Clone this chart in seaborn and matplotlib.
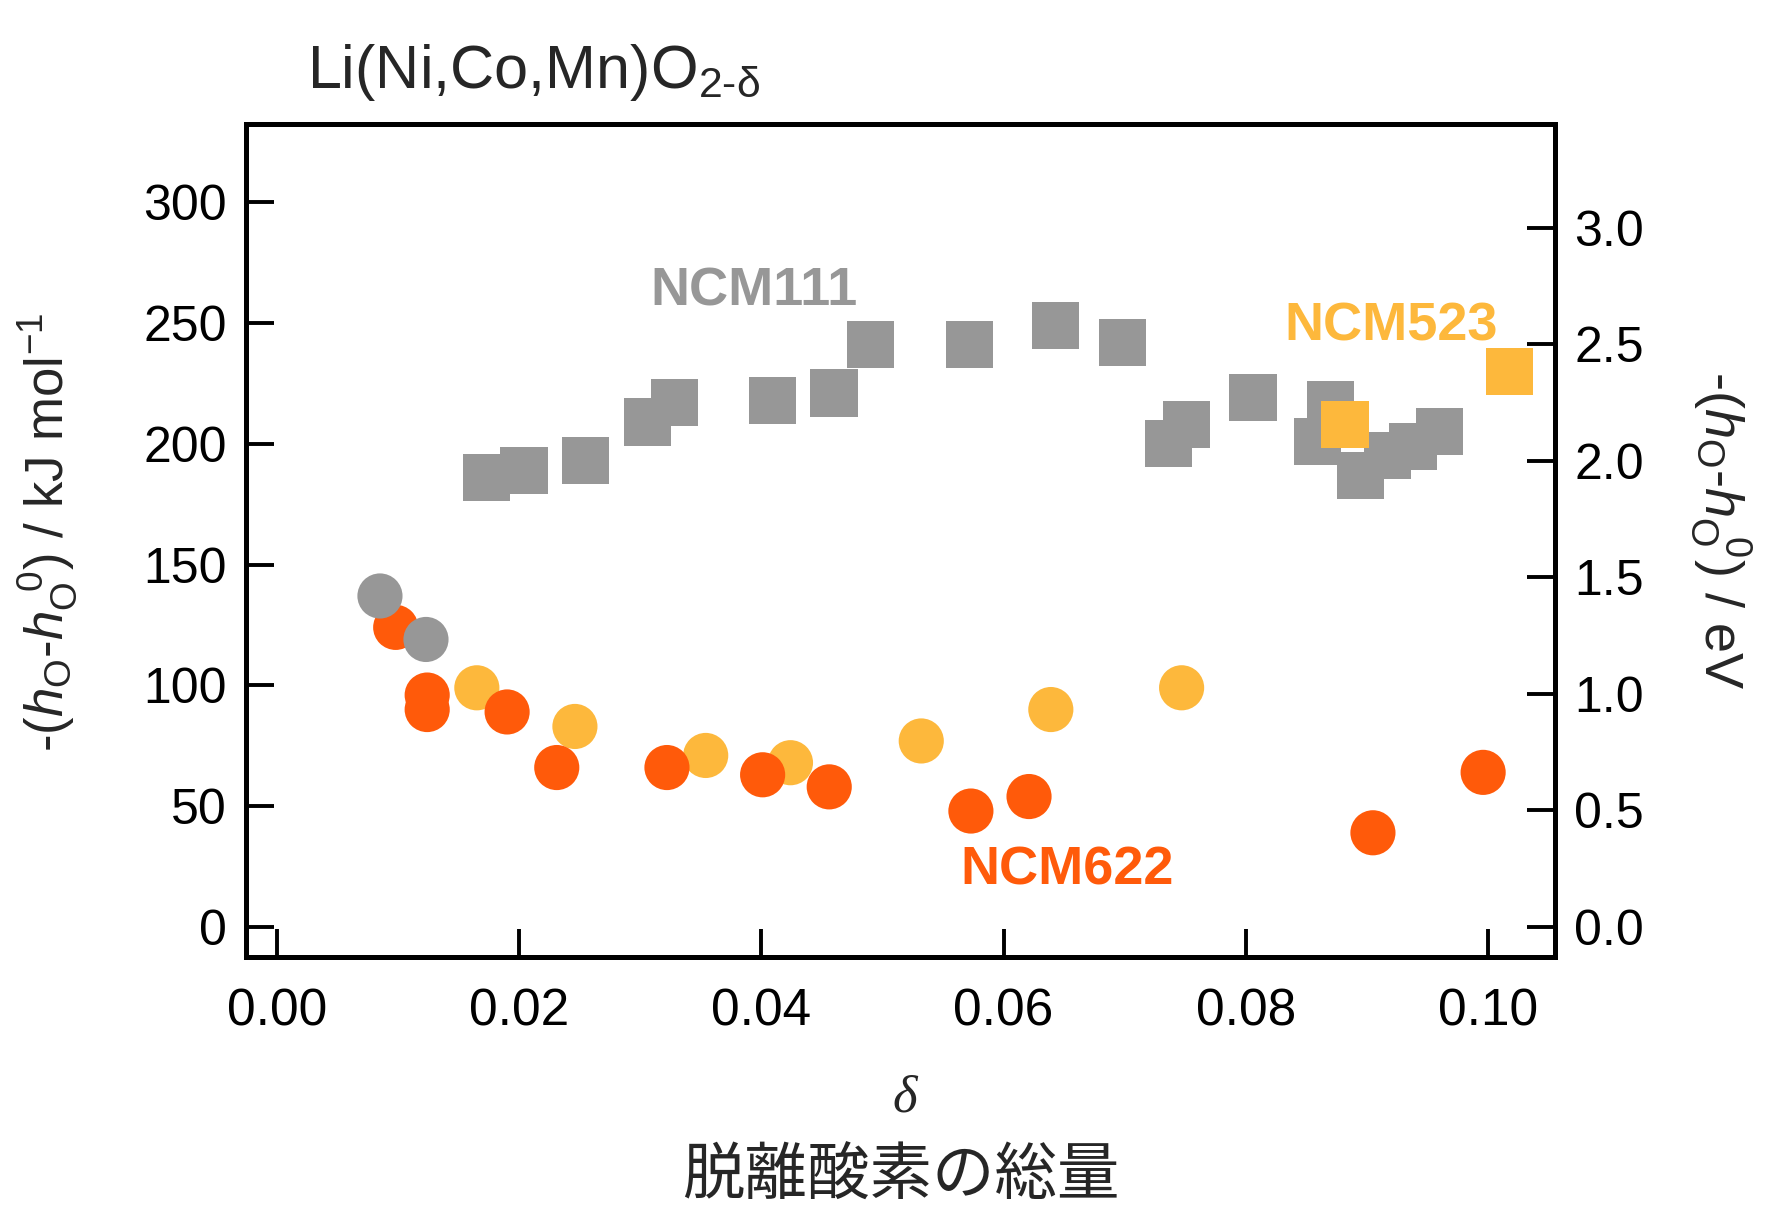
import numpy as np
import pandas as pd
import matplotlib
matplotlib.use("Agg")
import matplotlib.pyplot as plt
import seaborn as sns
from matplotlib.ticker import MultipleLocator, FormatStrFormatter

# ---------------- data ----------------
ncm111_sq_x = [0.0173, 0.0204, 0.0255, 0.0306, 0.0328, 0.0409, 0.0460, 0.0490, 0.0572,
               0.0643, 0.0698, 0.0736, 0.0751, 0.0806, 0.0870, 0.0859, 0.0895, 0.0917,
               0.0938, 0.0960]
ncm111_sq_y = [186, 189, 193, 209, 217, 218, 221, 241, 241,
               249, 242, 200, 208, 219, 216, 201, 187, 195,
               199, 205]
ncm523_sq_x = [0.0882, 0.1018]
ncm523_sq_y = [208, 230]

ncm111_ci_x = [0.0085, 0.0123]
ncm111_ci_y = [137, 119]
ncm622_ci_x = [0.0098, 0.0124, 0.0124, 0.0190, 0.0231, 0.0322, 0.0401, 0.0456,
               0.0573, 0.0621, 0.0905, 0.0996]
ncm622_ci_y = [124, 96, 90, 89, 66, 66, 63, 58,
               48, 54, 39, 64]
ncm523_ci_x = [0.0165, 0.0246, 0.0354, 0.0424, 0.0532, 0.0639, 0.0747]
ncm523_ci_y = [99, 83, 71, 68, 77, 90, 99]

y_ticks_kj = [0, 50, 100, 150, 200, 250, 300]
y_ticks_ev = [0.0, 0.5, 1.0, 1.5, 2.0, 2.5, 3.0]
x_ticks = [0.00, 0.02, 0.04, 0.06, 0.08, 0.10]
KJ_PER_EV = 96.485

GRAY = "#979797"
RED = "#FF5A0A"
YEL = "#FDB83C"

# ---------------- style ----------------
sns.set_theme(style="white")
plt.rcParams["font.family"] = ["Liberation Sans", "Noto Sans CJK JP", "DejaVu Sans"]
plt.rcParams["mathtext.fontset"] = "custom"
plt.rcParams["mathtext.rm"] = "Liberation Sans"
plt.rcParams["mathtext.it"] = "Liberation Sans:italic"
plt.rcParams["mathtext.bf"] = "Liberation Sans:bold"

fig = plt.figure(figsize=(17.7, 12.16), dpi=100)
ax = fig.add_axes([0.139, 0.213, 0.7395, 0.685])

sq_s = 34 ** 2
ci_s = 32.5 ** 2

df_g_sq = pd.DataFrame({"x": ncm111_sq_x, "y": ncm111_sq_y})
df_y_sq = pd.DataFrame({"x": ncm523_sq_x, "y": ncm523_sq_y})
df_g_ci = pd.DataFrame({"x": ncm111_ci_x, "y": ncm111_ci_y})
df_r_ci = pd.DataFrame({"x": ncm622_ci_x, "y": ncm622_ci_y})
df_y_ci = pd.DataFrame({"x": ncm523_ci_x, "y": ncm523_ci_y})

sns.scatterplot(data=df_g_sq, x="x", y="y", marker="s", s=sq_s, color=GRAY,
                edgecolor="none", linewidth=0, ax=ax, zorder=2)
sns.scatterplot(data=df_y_sq, x="x", y="y", marker="s", s=sq_s, color=YEL,
                edgecolor="none", linewidth=0, ax=ax, zorder=3)
sns.scatterplot(data=df_y_ci, x="x", y="y", marker="o", s=ci_s, color=YEL,
                edgecolor="none", linewidth=0, ax=ax, zorder=2)
sns.scatterplot(data=df_r_ci, x="x", y="y", marker="o", s=ci_s, color=RED,
                edgecolor="none", linewidth=0, ax=ax, zorder=3)
sns.scatterplot(data=df_g_ci, x="x", y="y", marker="o", s=ci_s, color=GRAY,
                edgecolor="none", linewidth=0, ax=ax, zorder=4)

ylim = (-12.4, 332.3)
ax.set_xlim(-0.00256, 0.10553)
ax.set_ylim(*ylim)
ax.set_xticks(x_ticks)
ax.set_yticks(y_ticks_kj)
ax.xaxis.set_major_formatter(FormatStrFormatter("%.2f"))
ax.set_xlabel("")
ax.set_ylabel(r"-($h_{\rm O}$-$h_{\rm O}^{\ \,0}$) / kJ mol$^{-1}$", fontsize=38,
              rotation=90, va="center", ha="center")
ax.yaxis.set_label_coords(-0.152, 0.51)

for sp in ax.spines.values():
    sp.set_linewidth(3.6)
    sp.set_color("black")
    sp.set_visible(True)

ax.tick_params(axis="x", direction="in", length=20, width=2.8, pad=22,
               labelsize=37, bottom=True, top=False, colors="black")
ax.tick_params(axis="y", direction="in", length=20, width=2.8, pad=14,
               labelsize=36, left=True, right=False, colors="black")

ax2 = ax.twinx()
ax2.set_ylim(ylim[0] / KJ_PER_EV, ylim[1] / KJ_PER_EV)
ax2.set_yticks(y_ticks_ev)
ax2.yaxis.set_major_formatter(FormatStrFormatter("%.1f"))
ax2.tick_params(axis="y", direction="in", length=20, width=2.8, pad=14,
                labelsize=36, right=True, left=False, colors="black")
for sp in ax2.spines.values():
    sp.set_linewidth(3.6)
    sp.set_color("black")
ax2.grid(False)
ax.grid(False)
ax2.set_ylabel(r"-($h_{\rm O}$-$h_{\rm O}^{\ \,0}$) / eV", fontsize=39,
               rotation=270, va="center", ha="center")
ax2.yaxis.set_label_coords(1.127, 0.513)

# annotations
ax.text(0.0394, 263.2, "NCM111", color=GRAY, fontsize=39, fontweight="bold",
        ha="center", va="center")
ax.text(0.0920, 248.7, "NCM523", color=YEL, fontsize=39, fontweight="bold",
        ha="center", va="center")
ax.text(0.0652, 23.4, "NCM622", color=RED, fontsize=39, fontweight="bold",
        ha="center", va="center")

# title and x labels
fig.text(0.1734, 0.94, r"Li(Ni,Co,Mn)O$_{\mathrm{2\text{-}\delta}}$", fontsize=44,
         ha="left", va="center")
fig.text(0.5113, 0.097, "δ", fontsize=38, family="Liberation Serif", style="italic",
         ha="center", va="center")
fig.text(0.509, 0.006, "脱離酸素の総量", fontsize=45,
         family=["Noto Sans CJK JP", "DejaVu Sans"], ha="center", va="bottom")

fig.savefig("out.png", dpi=100)
